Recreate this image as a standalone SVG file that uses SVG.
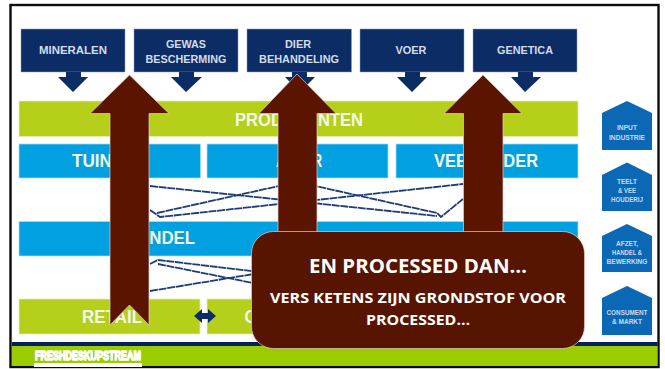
<svg xmlns="http://www.w3.org/2000/svg" width="665" height="369" viewBox="0 0 665 369">
<style>
text{font-family:"Liberation Sans",Arial,sans-serif;font-weight:700;text-anchor:middle}
.navy{fill:#0c2c66;stroke:#8fa0bd;stroke-width:.5}
.dn{fill:#0c2c66}
.lbl{fill:#d3dcea;font-size:11px}
.lime{fill:#b5cf1a;stroke:#e6efb0;stroke-width:.7}
.sky{fill:#00a0e1;stroke:#a8def5;stroke-width:.7}
.bar{fill:#f2f8ea;font-size:18px}
.house{fill:#0a68b4}
.tiny{fill:#c9dcef;font-size:6.5px}
.big{fill:#5a1400;stroke:#e0d2c4;stroke-width:.7}
.call{fill:#fff;font-family:"Open Sans","Liberation Sans",sans-serif}
.link{fill:none;stroke:#1d3c78;stroke-width:1.8;stroke-dasharray:8 .7}
</style>
<rect width="665" height="369" fill="#fff"/>
<g id="frame">
<rect x="10.5" y="5" width="648" height="362" fill="#fff" stroke="#0a0a0a" stroke-width="2.4"/>
<rect x="12" y="342" width="645.5" height="4" fill="#051f5c"/>
<rect x="12" y="346" width="645.5" height="20" fill="#9acc00"/>
</g>
<g id="logo">
<text x="88" y="360" font-size="13" fill="#fff" stroke="#fff" stroke-width="1.5" textLength="106" lengthAdjust="spacingAndGlyphs">FRESHDESKUPSTREAM</text>
<rect x="34" y="363" width="108" height="4" fill="#fff"/>
</g>
<g id="node-producenten"><rect class="lime" x="19" y="101" width="559" height="35.5"/><text class="bar" x="299" y="126" textLength="128" lengthAdjust="spacingAndGlyphs">PRODUCENTEN</text></g>
<g id="node-tuinder"><rect class="sky" x="19" y="144" width="181.500" height="34"/><text class="bar" x="110" y="166.500" textLength="76" lengthAdjust="spacingAndGlyphs">TUINDER</text></g>
<g id="node-akker"><rect class="sky" x="207" y="144" width="181" height="34"/><text class="bar" x="299" y="166.500" textLength="46" lengthAdjust="spacingAndGlyphs">AKKER</text></g>
<g id="node-veehouder"><rect class="sky" x="396" y="144" width="182" height="34"/><text class="bar" x="486" y="166.500" textLength="104" lengthAdjust="spacingAndGlyphs">VEEHOUDER</text></g>
<g id="node-handel"><rect class="sky" x="19" y="221.500" width="559" height="34.500"/><text class="bar" x="160" y="244" textLength="70" lengthAdjust="spacingAndGlyphs">HANDEL</text></g>
<g id="node-retail"><rect class="lime" x="19" y="299" width="181" height="35"/><text class="bar" x="112" y="322.700" textLength="60" lengthAdjust="spacingAndGlyphs">RETAIL</text></g>
<g id="node-consument"><rect class="lime" x="207" y="299" width="181" height="35"/><text class="bar" x="297" y="322.700" textLength="105" lengthAdjust="spacingAndGlyphs">CONSUMENT</text></g>
<g id="connectors">
<path class="link" d="M150 186L437 216"/>
<path class="link" d="M150 210L160 217L463 184"/>
<path class="link" d="M157 213L297 182L437 213L441 217L463 199"/>
<path class="link" d="M150 264L158 260L260 272"/>
<path class="link" d="M158 264L258 284"/>
<path class="link" d="M150 291L260 273"/>
<path class="dn" d="M194 316L202 309V313H208V309L216 316L208 323V319H202V323Z"/>
</g>
<g id="node-mineralen"><rect class="navy" x="21" y="29" width="104" height="43"/><path class="dn" d="M66 72H81V77H88L73 92L58 77H66Z"/><text class="lbl" x="73" y="54" textLength="68" lengthAdjust="spacingAndGlyphs">MINERALEN</text></g>
<g id="node-gewas"><rect class="navy" x="134" y="29" width="104" height="43"/><path class="dn" d="M179 72H194V77H202L186 92L171 77H179Z"/><text class="lbl" x="186" y="47.500" textLength="40" lengthAdjust="spacingAndGlyphs">GEWAS</text><text class="lbl" x="186" y="63" textLength="81" lengthAdjust="spacingAndGlyphs">BESCHERMING</text></g>
<g id="node-dier"><rect class="navy" x="247" y="29" width="104.500" height="43"/><path class="dn" d="M292 72H307V77H315L300 92L285 77H292Z"/><text class="lbl" x="298" y="47.500" textLength="26" lengthAdjust="spacingAndGlyphs">DIER</text><text class="lbl" x="299" y="63" textLength="80" lengthAdjust="spacingAndGlyphs">BEHANDELING</text></g>
<g id="node-voer"><rect class="navy" x="360" y="29" width="104" height="43"/><path class="dn" d="M405 72H420V77H427L412 92L397 77H405Z"/><text class="lbl" x="411" y="54" textLength="31" lengthAdjust="spacingAndGlyphs">VOER</text></g>
<g id="node-genetica"><rect class="navy" x="473" y="29" width="104" height="43"/><path class="dn" d="M518 72H533V77H541L525 92L511 77H518Z"/><text class="lbl" x="525" y="54" textLength="56" lengthAdjust="spacingAndGlyphs">GENETICA</text></g>
<g id="node-input"><path class="house" d="M602 150V113L627 101L652 113V150Z"/><text class="tiny" x="627" y="130" textLength="20" lengthAdjust="spacingAndGlyphs">INPUT</text><text class="tiny" x="627" y="140" textLength="36" lengthAdjust="spacingAndGlyphs">INDUSTRIE</text></g>
<g id="node-teelt"><path class="house" d="M602 211V175L627 162.500L652 175V211Z"/><text class="tiny" x="627" y="184" textLength="20" lengthAdjust="spacingAndGlyphs">TEELT</text><text class="tiny" x="627" y="193" textLength="18" lengthAdjust="spacingAndGlyphs">&amp; VEE</text><text class="tiny" x="627" y="202" textLength="32" lengthAdjust="spacingAndGlyphs">HOUDERIJ</text></g>
<g id="node-afzet"><path class="house" d="M602 272V236L627 224L652 236V272Z"/><text class="tiny" x="627" y="246" textLength="22" lengthAdjust="spacingAndGlyphs">AFZET,</text><text class="tiny" x="627" y="255" textLength="30" lengthAdjust="spacingAndGlyphs">HANDEL &amp;</text><text class="tiny" x="627" y="264" textLength="41" lengthAdjust="spacingAndGlyphs">BEWERKING</text></g>
<g id="node-consumer"><path class="house" d="M602 335V298L627 286L652 298V335Z"/><text class="tiny" x="627" y="315" textLength="41" lengthAdjust="spacingAndGlyphs">CONSUMENT</text><text class="tiny" x="627" y="324" textLength="30" lengthAdjust="spacingAndGlyphs">&amp; MARKT</text></g>
<g id="arrow-1"><path class="big" d="M129.500 75L169 113.500H149V325L129.500 305L110 325V113.500H90Z"/></g>
<g id="arrow-2"><path class="big" d="M297 74L336 113.500H317V240H278V113.500H259Z"/></g>
<g id="arrow-3"><path class="big" d="M483 75L522 113.500H503V240H463.500V113.500H444Z"/></g>
<g id="callout">
<rect x="251.500" y="231.500" width="333" height="117" rx="22" fill="#571400" stroke="#e0d2c4" stroke-width=".7"/>
<text class="call" x="418" y="272.700" font-size="20" textLength="218" lengthAdjust="spacingAndGlyphs">EN PROCESSED DAN…</text>
<text class="call" x="418" y="302.700" font-size="15" textLength="296" lengthAdjust="spacingAndGlyphs">VERS KETENS ZIJN GRONDSTOF VOOR</text>
<text class="call" x="418" y="325" font-size="15" textLength="104" lengthAdjust="spacingAndGlyphs">PROCESSED…</text>
</g>
</svg>
